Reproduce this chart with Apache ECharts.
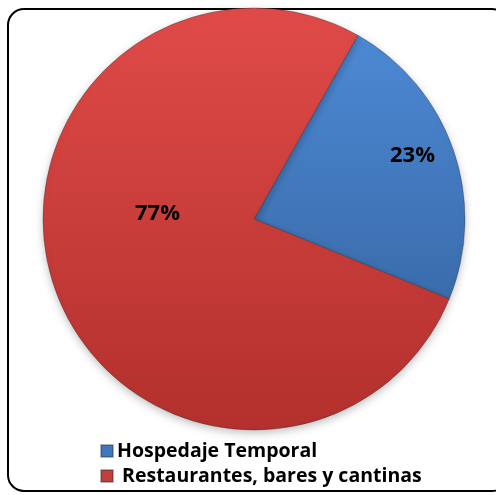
<!DOCTYPE html>
<html><head><meta charset="utf-8">
<script src="https://cdn.jsdelivr.net/npm/echarts@6/dist/echarts.min.js"></script>
<style>html,body{margin:0;padding:0;background:#fff;}#c{width:496px;height:495px;}</style>
</head><body><div id="c"></div>
<script>
const categories = ['Hospedaje Temporal', 'Restaurantes, bares y cantinas'];
const legendLabels = ['Hospedaje Temporal', ' Restaurantes, bares y cantinas'];
const values = [23, 77];
const colors = [
  {type:'linear',x:0,y:0,x2:0,y2:1,colorStops:[{offset:0,color:'#4d89d4'},{offset:1,color:'#3a6cab'}]},
  {type:'linear',x:0,y:0,x2:0,y2:1,colorStops:[{offset:0,color:'#e04b48'},{offset:1,color:'#b2302d'}]}
];
const legendColors = ['#3f78bf','#c0403d'];
const labelShift = [[56,-28],[6,-41]];

const chart = echarts.init(document.getElementById('c'));
chart.setOption({
  animation:false,
  graphic:[{type:'rect',shape:{x:8,y:9,width:500,height:482,r:16},style:{fill:'none',stroke:'#000',lineWidth:2},z:-10}],
  legend:{
    orient:'vertical', left:95, top:436, icon:'rect', itemWidth:12, itemHeight:12, itemGap:5,
    textStyle:{fontFamily:'Open Sans',fontWeight:'bold',fontSize:19.5,color:'#000',padding:[0,0,0,-1]},
    data: categories.map((c,i)=>({name:c,itemStyle:{color:legendColors[i]}})),
    formatter: n => legendLabels[categories.indexOf(n)]
  },
  series:[{
    type:'pie', center:[254,219], radius:211, startAngle:60.5, clockwise:true,
    avoidLabelOverlap:false,
    itemStyle:{borderColor:'rgba(40,40,40,0.35)',borderWidth:1,shadowBlur:8,shadowColor:'rgba(0,0,0,0.25)',shadowOffsetY:3},
    label:{show:true,position:'inside',formatter:'{d}%',fontFamily:'Open Sans',fontWeight:'bold',fontSize:22,color:'#000'},
    labelLine:{show:false},
    emphasis:{disabled:true},
    labelLayout: p => ({dx:labelShift[p.dataIndex][0],dy:labelShift[p.dataIndex][1]}),
    data: categories.map((c,i)=>({name:c,value:values[i],itemStyle:{color:colors[i]}}))
  }]
});
</script></body></html>
